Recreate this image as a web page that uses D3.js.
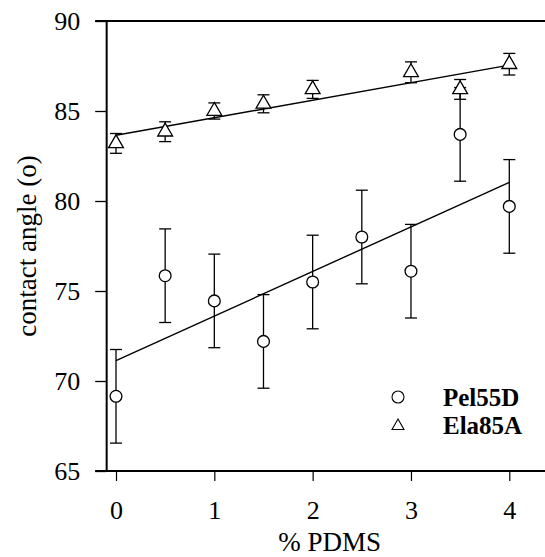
<!DOCTYPE html>
<html>
<head>
<meta charset="utf-8">
<script src="https://cdn.jsdelivr.net/npm/d3@7"></script>
<style>
  html, body { margin: 0; padding: 0; background: #fff; }
  svg { display: block; }
  text { font-family: "Liberation Serif", "Times New Roman", serif; fill: #000; }
</style>
</head>
<body>
<svg id="chart" width="545" height="557"></svg>
<script>
// % PDMS content of each sample
const pdms = [0, 0.5, 1, 1.5, 2, 2.5, 3, 3.5, 4];

// Pel55D: mean contact angle and standard deviation
const pelAngle = [69.15, 75.85, 74.45, 72.2, 75.5, 78.0, 76.1, 83.7, 79.7];
const pelError = [2.6, 2.6, 2.6, 2.6, 2.6, 2.6, 2.6, 2.6, 2.6];

// Ela85A: no sample at 2.5 %
const elaPdms  = [0, 0.5, 1, 1.5, 2, 3, 3.5, 4];
const elaAngle = [83.2, 83.85, 85.0, 85.4, 86.2, 87.15, 86.2, 87.6];
const elaError = [0.55, 0.55, 0.45, 0.5, 0.5, 0.58, 0.55, 0.6];

// Linear fits, evaluated at the end points of the PDMS range
const fitPdms = [0, 4];
const pelFit  = [71.13, 81.04];
const elaFit  = [83.65, 87.55];

const xTicks = [0, 1, 2, 3, 4];
const yTicks = [65, 70, 75, 80, 85, 90];

const legendNames = ["Pel55D", "Ela85A"];

const svg = d3.select("#chart");

const x = d3.scaleLinear().domain([0, 4]).range([116, 509.3]);
const y = d3.scaleLinear().domain([65, 90]).range([471, 21]);

const xLeft = x(-0.1);     // position of the y axis
const xRight = 548;        // frame runs off the right edge

// frame lines (top and bottom)
svg.append("line")
  .attr("x1", xLeft - 11).attr("x2", xRight)
  .attr("y1", y(90)).attr("y2", y(90))
  .attr("stroke", "#000").attr("stroke-width", 2);
svg.append("line")
  .attr("x1", xLeft - 11).attr("x2", xRight)
  .attr("y1", y(65)).attr("y2", y(65))
  .attr("stroke", "#000").attr("stroke-width", 2);

// y axis
const yAxis = svg.append("g")
  .attr("transform", `translate(${xLeft},0)`)
  .call(d3.axisLeft(y).tickValues(yTicks).tickSize(11).tickPadding(15).tickSizeOuter(0));
yAxis.select(".domain").attr("stroke-width", 2);
yAxis.selectAll(".tick line").attr("stroke-width", 1.3);
yAxis.selectAll(".tick text")
  .style("font-size", "26px")
  .style("font-family", "'Liberation Serif', serif");

// x axis (ticks and labels only; the frame line is drawn above)
const xAxis = svg.append("g")
  .attr("transform", `translate(0,${y(65)})`)
  .call(d3.axisBottom(x).tickValues(xTicks).tickSize(10).tickPadding(20).tickFormat(d3.format("d")));
xAxis.select(".domain").remove();
xAxis.selectAll(".tick line").attr("stroke-width", 1.2);
xAxis.selectAll(".tick text")
  .style("font-size", "26px")
  .style("font-family", "'Liberation Serif', serif");

// axis titles
svg.append("text")
  .attr("x", (x(0) + x(4)) / 2 + 17)
  .attr("y", 551)
  .attr("text-anchor", "middle")
  .style("font-size", "27px")
  .text("% PDMS");

svg.append("text")
  .attr("transform", `translate(36,${(y(65) + y(90)) / 2}) rotate(-90)`)
  .attr("text-anchor", "middle")
  .style("font-size", "27px")
  .text("contact angle (o)");

// fit lines
const line = d3.line().x(d => x(d[0])).y(d => y(d[1]));
svg.append("path")
  .datum(d3.zip(fitPdms, pelFit))
  .attr("d", line)
  .attr("fill", "none").attr("stroke", "#000").attr("stroke-width", 1.4);
svg.append("path")
  .datum(d3.zip(fitPdms, elaFit))
  .attr("d", line)
  .attr("fill", "none").attr("stroke", "#000").attr("stroke-width", 1.4);

// error bars
function errorBars(xs, vals, errs) {
  const rows = d3.zip(xs, vals, errs);
  const g = svg.append("g").attr("stroke", "#000").attr("stroke-width", 1.3);
  g.selectAll(".stem").data(rows).join("line")
    .attr("x1", d => x(d[0])).attr("x2", d => x(d[0]))
    .attr("y1", d => y(d[1] - d[2])).attr("y2", d => y(d[1] + d[2]));
  g.selectAll(".capTop").data(rows).join("line")
    .attr("x1", d => x(d[0]) - 6).attr("x2", d => x(d[0]) + 6)
    .attr("y1", d => y(d[1] + d[2])).attr("y2", d => y(d[1] + d[2]));
  g.selectAll(".capBottom").data(rows).join("line")
    .attr("x1", d => x(d[0]) - 6).attr("x2", d => x(d[0]) + 6)
    .attr("y1", d => y(d[1] - d[2])).attr("y2", d => y(d[1] - d[2]));
}
errorBars(pdms, pelAngle, pelError);
errorBars(elaPdms, elaAngle, elaError);

// markers
const tri = d3.symbol().type(d3.symbolTriangle).size(95);
svg.append("g").selectAll("circle")
  .data(d3.zip(pdms, pelAngle)).join("circle")
  .attr("cx", d => x(d[0])).attr("cy", d => y(d[1]))
  .attr("r", 5.9)
  .attr("fill", "#fff").attr("stroke", "#000").attr("stroke-width", 1.3);
svg.append("g").selectAll("path")
  .data(d3.zip(elaPdms, elaAngle)).join("path")
  .attr("transform", d => `translate(${x(d[0])},${y(d[1])})`)
  .attr("d", tri)
  .attr("fill", "#fff").attr("stroke", "#000").attr("stroke-width", 1.3);

// legend
const legend = svg.append("g");
legend.append("circle")
  .attr("cx", 398).attr("cy", 397).attr("r", 6)
  .attr("fill", "#fff").attr("stroke", "#000").attr("stroke-width", 1.1);
legend.append("path")
  .attr("transform", "translate(398,426)")
  .attr("d", d3.symbol().type(d3.symbolTriangle).size(62)())
  .attr("fill", "#fff").attr("stroke", "#000").attr("stroke-width", 1.1);
legend.selectAll("text")
  .data(legendNames).join("text")
  .attr("x", 443)
  .attr("y", (d, i) => 397 + i * 28)
  .attr("dy", "0.35em")
  .style("font-size", "25px")
  .style("font-weight", "bold")
  .text(d => d);
</script>
</body>
</html>
